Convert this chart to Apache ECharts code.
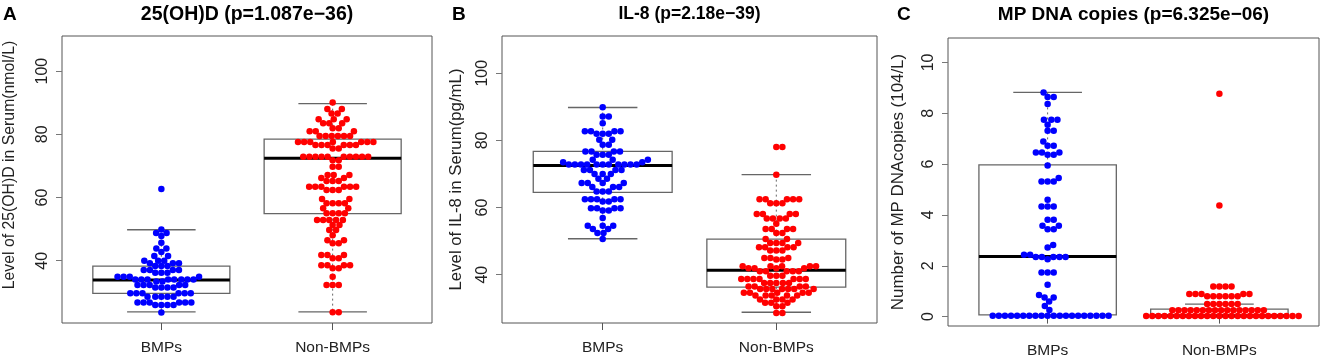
<!DOCTYPE html>
<html>
<head>
<meta charset="utf-8">
<script src="https://cdn.jsdelivr.net/npm/echarts@6/dist/echarts.min.js"></script>
<style>
  html, body { margin: 0; padding: 0; background: #fff; }
  #chart { width: 1325px; height: 360px; }
</style>
</head>
<body>
<div id="chart"></div>
<script>
const groups = ['BMPs', 'Non-BMPs'];
const letters = ['A', 'B', 'C'];
const titles = ['25(OH)D (p=1.087e\u221236)', 'IL-8 (p=2.18e\u221239)', 'MP DNA copies (p=6.325e\u221206)'];
const yNames = ['Level of 25(OH)D in Serum(nmol/L)', 'Level of IL-8 in Serum(pg/mL)', 'Number of MP DNAcopies (104/L)'];
const yTicks = [[40, 60, 80, 100], [40, 60, 80, 100], [0, 2, 4, 6, 8, 10]];

// box stats: [lower whisker, Q1, median, Q3, upper whisker]
const aBox = [[23.8, 29.7, 33.9, 38.3, 49.8], [23.8, 54.9, 72.4, 78.5, 89.7]];
const bBox = [[50.7, 64.5, 72.5, 76.7, 89.8], [28.8, 36.3, 41.3, 50.6, 69.8]];
const cBox = [[0, 0.07, 2.36, 5.97, 8.82], [0, 0, 0.03, 0.29, 0.49]];

// 25(OH)D
const aBmps = [62.7,
  49.9, 48.8, 48.8, 47.8, 45.7, 43.9, 43.9, 42.8, 41.5, 41.5,
  40.0, 40.0, 40.0, 39.2, 39.2, 39.2,
  38.3, 38.3, 38.3, 37.1, 37.1, 37.1, 37.1,
  36.2, 36.2, 36.2, 34.9, 34.9, 34.9, 34.9,
  34.1, 34.1, 34.1, 34.1, 34.1, 34.1, 34.1, 34.1, 33.4, 33.4,
  32.3, 32.3, 32.3, 32.3, 32.3, 31.5, 31.5, 31.5, 31.5,
  29.7, 29.7, 29.7, 29.7, 29.7, 29.7, 28.6, 28.6, 28.6, 28.6, 28.6,
  26.8, 26.8, 26.8, 26.8, 26.8, 26.8, 26.0, 26.0, 26.0, 26.0,
  23.6];
const aNon = [90.1, 88.0, 88.0, 86.6, 86.6,
  84.8, 84.8, 84.8, 83.5, 83.5, 83.5, 81.9, 81.9, 81.0, 81.0, 81.0,
  79.5, 79.5, 79.5, 79.5, 79.5, 79.5,
  77.6, 77.6, 77.6, 77.6, 77.6, 77.6, 77.6, 76.6, 76.6, 76.6, 76.6, 76.6, 76.6,
  75.5, 75.5,
  72.9, 72.9, 72.9, 72.9, 72.9, 72.9, 72.9, 72.9, 72.9, 72.9, 71.8, 71.8,
  69.7, 69.7, 67.1, 67.1, 67.1, 66.2, 66.2, 65.2, 65.2, 65.2,
  63.4, 63.4, 63.4, 63.4, 63.4, 63.4, 62.4, 62.4, 62.4,
  59.5, 59.5, 58.2, 58.2, 58.2, 58.2, 56.6, 56.6, 55.0, 55.0, 55.0, 55.0,
  52.9, 52.9, 52.9, 52.9, 52.9, 51.3, 51.3, 49.7, 49.7, 48.1, 46.5, 46.5, 45.5, 45.5,
  41.8, 41.8, 41.8, 40.8, 40.8, 38.6, 38.6, 38.6, 38.6, 37.6, 37.6,
  34.9, 32.3, 32.3, 32.3, 23.7, 23.7];

// IL-8
const bBmps = [89.9, 87.1, 87.1, 85.1,
  82.7, 82.7, 82.7, 82.7, 82.0, 82.0, 82.0, 80.2, 80.2, 78.7, 78.7,
  76.7, 76.7, 76.7, 76.7, 75.7, 75.7, 75.7, 74.2, 74.2, 74.2,
  73.5, 73.5, 72.8, 72.8, 72.8, 72.8, 72.8, 72.8, 72.8, 72.8, 72.8, 72.8, 72.8,
  71.2, 71.2, 71.2, 71.2, 70.0, 70.0, 70.0,
  68.6, 68.6, 67.3, 67.3, 67.3, 67.3, 66.1, 66.1, 66.1, 64.8, 64.8, 64.8,
  62.5, 62.5, 62.5, 62.5, 62.5, 61.8, 61.8, 59.8, 59.8, 59.8, 59.8, 59.1, 59.1,
  56.9, 54.6, 54.6, 54.6, 53.6, 53.6, 52.4, 52.4, 50.6];
const bNon = [78.0, 78.0, 69.8,
  62.5, 62.5, 62.5, 62.5, 62.5, 61.3, 61.3, 61.3,
  58.1, 58.1, 58.1, 58.1, 56.7, 56.7, 56.7, 56.7, 55.2,
  53.6, 53.6, 53.6, 53.6, 52.4, 52.4, 50.6, 50.6,
  49.4, 49.4, 49.4, 49.4, 48.2, 48.2, 48.2, 48.2, 47.2, 47.2, 47.2,
  45.0, 45.0, 45.0, 44.5, 44.5,
  42.5, 42.5, 42.5, 42.5, 42.5, 41.9, 41.9, 41.9, 41.9, 41.0, 41.0, 41.0, 41.0, 41.0,
  39.7, 39.7, 39.7, 38.7, 38.7, 38.7, 38.7, 38.7, 38.7, 38.7,
  37.5, 37.5, 37.5, 37.5, 37.5, 36.5, 36.5, 36.5, 36.5,
  35.7, 35.7, 35.7, 35.7, 35.7, 35.7, 35.7, 34.6, 34.6, 34.6, 34.6, 34.6,
  33.8, 33.8, 33.8, 33.8, 33.8, 32.6, 32.6, 32.6, 32.6, 31.6, 31.6, 31.6,
  30.6, 30.6, 28.6, 28.6];

// MP DNA copies
const cBmps = [8.82, 8.64, 8.64, 8.36, 7.74, 7.74, 7.74, 7.55, 7.31, 7.31,
  6.89, 6.72, 6.72, 6.46, 6.46, 6.46, 6.37, 6.37, 5.94, 5.45, 5.31, 5.31, 5.31,
  4.60, 4.33, 4.33, 4.33, 3.81, 3.81, 3.57, 3.57, 3.44, 3.44, 2.82, 2.72,
  2.43, 2.43, 2.34, 2.34, 2.34, 2.34, 2.34, 2.26, 1.73, 1.73, 1.73, 1.25,
  0.85, 0.75, 0.75, 0.59, 0.42, 0.26,
  0.03, 0.03, 0.03, 0.03, 0.03, 0.03, 0.03, 0.03, 0.03, 0.03,
  0.03, 0.03, 0.03, 0.03, 0.03, 0.03, 0.03, 0.03, 0.03, 0.03];
const cNon = [8.77, 4.37, 1.18, 1.18, 1.18, 1.18,
  0.89, 0.89, 0.89, 0.89, 0.89, 0.80, 0.80, 0.80, 0.80, 0.80, 0.80,
  0.50, 0.50, 0.50, 0.50, 0.50, 0.50,
  0.25, 0.25, 0.25, 0.25, 0.25, 0.25, 0.25, 0.25,
  0.25, 0.25, 0.25, 0.25, 0.25, 0.25, 0.25, 0.25,
  0.02, 0.02, 0.02, 0.02, 0.02, 0.02, 0.02, 0.02, 0.02, 0.02, 0.02, 0.02, 0.02,
  0.02, 0.02, 0.02, 0.02, 0.02, 0.02, 0.02, 0.02, 0.02, 0.02, 0.02, 0.02, 0.02];

const boxes = [aBox, bBox, cBox];
const points = [[aBmps, aNon], [bBmps, bNon], [cBmps, cNon]];
const colors = ['#0000ff', '#ff0000'];
const gridPos = [
  { left: 62, top: 36, width: 370, height: 287 },
  { left: 502, top: 36, width: 375, height: 287 },
  { left: 948, top: 38, width: 371, height: 288 }
];
const yRange = [[20.3, 111.1], [25.6, 111.1], [-0.37, 10.96]];
const nameGaps = [44, 37, 41];
const nameSizes = [15.8, 16.8, 16.9];
const titleSizes = [19.5, 17.5, 19];
const font = '"Liberation Sans", Arial, Helvetica, sans-serif';
const DOT = 6.1;

const chart = echarts.init(document.getElementById('chart'));

function renderBox(params, api) {
  const x = api.value(0);
  const lo = api.value(1), q1 = api.value(2), med = api.value(3), q3 = api.value(4), hi = api.value(5);
  const tl = api.coord([x - 0.4, q3]);
  const br = api.coord([x + 0.4, q1]);
  const mL = api.coord([x - 0.4, med]);
  const mR = api.coord([x + 0.4, med]);
  const cTop = api.coord([x, hi]);
  const cBot = api.coord([x, lo]);
  const capL = api.coord([x - 0.2, hi])[0];
  const capR = api.coord([x + 0.2, hi])[0];
  const gray = '#666';
  return {
    type: 'group',
    children: [
      { type: 'line', shape: { x1: cTop[0], y1: cTop[1], x2: cTop[0], y2: tl[1] },
        style: { stroke: gray, lineWidth: 1, lineDash: [2, 3] } },
      { type: 'line', shape: { x1: cBot[0], y1: br[1], x2: cBot[0], y2: cBot[1] },
        style: { stroke: gray, lineWidth: 1, lineDash: [2, 3] } },
      { type: 'line', shape: { x1: capL, y1: cTop[1], x2: capR, y2: cTop[1] },
        style: { stroke: gray, lineWidth: 1.3 } },
      { type: 'line', shape: { x1: capL, y1: cBot[1], x2: capR, y2: cBot[1] },
        style: { stroke: gray, lineWidth: 1.3 } },
      { type: 'rect', shape: { x: tl[0], y: tl[1], width: br[0] - tl[0], height: br[1] - tl[1] },
        style: { fill: 'none', stroke: gray, lineWidth: 1.3 } },
      { type: 'line', shape: { x1: mL[0], y1: mL[1], x2: mR[0], y2: mR[1] },
        style: { stroke: '#000', lineWidth: 3 } }
    ]
  };
}

const option = {
  animation: false,
  textStyle: { fontFamily: font },
  title: [],
  grid: gridPos.map(g => Object.assign({ show: true, borderColor: '#555', borderWidth: 1, backgroundColor: 'transparent' }, g)),
  xAxis: [],
  yAxis: [],
  series: []
};

for (let i = 0; i < 3; i++) {
  const g = gridPos[i];
  option.title.push({
    text: titles[i], left: g.left + g.width / 2, top: 5, textAlign: 'center', padding: 0,
    textStyle: { fontFamily: font, fontSize: titleSizes[i], fontWeight: 'bold', color: '#000' }
  });
  option.title.push({
    text: letters[i], left: [3, 452, 897][i], top: 5, padding: 0,
    textStyle: { fontFamily: font, fontSize: 19, fontWeight: 'bold', color: '#000' }
  });
  option.xAxis.push({
    type: 'value', gridIndex: i, min: 0.42, max: 2.58,
    axisLine: { show: false },
    splitLine: { show: false },
    axisTick: { show: true, customValues: [1, 2], length: 7, lineStyle: { color: '#555' } },
    axisLabel: {
      customValues: [1, 2], margin: 17, fontSize: 15.5, color: '#222', fontFamily: font,
      formatter: v => groups[Math.round(v) - 1]
    }
  });
  option.yAxis.push({
    type: 'value', gridIndex: i, min: yRange[i][0], max: yRange[i][1],
    axisLine: { show: false },
    splitLine: { show: false },
    axisTick: { show: true, customValues: yTicks[i], length: 6, lineStyle: { color: '#777' } },
    axisLabel: { customValues: yTicks[i], rotate: 90, margin: 11, fontSize: 16, color: '#222', fontFamily: font },
    name: yNames[i], nameLocation: 'middle', nameGap: nameGaps[i],
    nameTextStyle: { fontSize: nameSizes[i], color: '#222', fontFamily: font, padding: i === 0 ? [0, 0, 0, 29] : 0 }
  });
  option.series.push({
    type: 'custom', xAxisIndex: i, yAxisIndex: i, z: 2,
    renderItem: renderBox,
    data: boxes[i].map((b, k) => [k + 1].concat(b))
  });
  for (let k = 0; k < 2; k++) {
    option.series.push({
      type: 'scatter', xAxisIndex: i, yAxisIndex: i, z: 3,
      symbolSize: 6.5, itemStyle: { color: colors[k], opacity: 1 },
      data: []
    });
  }
}

chart.setOption(option);

// beeswarm layout (swarm method): offsets computed in pixels from the axis scale
function swarm(vals, panel, center) {
  const unit = chart.convertToPixel({ gridIndex: panel }, [2, 0])[0] - chart.convertToPixel({ gridIndex: panel }, [1, 0])[0];
  const sorted = vals.slice().sort((a, b) => a - b);
  const placed = [];
  const out = [];
  sorted.forEach(v => {
    const py = chart.convertToPixel({ gridIndex: panel }, [center, v])[1];
    const cands = [0];
    placed.forEach(p => {
      const dy = Math.abs(p.y - py);
      if (dy < DOT) {
        const dx = Math.sqrt(DOT * DOT - dy * dy);
        cands.push(p.x + dx, p.x - dx);
      }
    });
    cands.sort((a, b) => Math.abs(a) - Math.abs(b));
    const best = cands.find(c => placed.every(p => (p.x - c) * (p.x - c) + (p.y - py) * (p.y - py) >= DOT * DOT - 0.01));
    placed.push({ x: best, y: py });
    out.push([center + best / unit, v]);
  });
  return out;
}

const series = [];
for (let i = 0; i < 3; i++) {
  series.push({});
  for (let k = 0; k < 2; k++) {
    series.push({ data: swarm(points[i][k], i, k + 1) });
  }
}
chart.setOption({ series: series });
</script>
</body>
</html>
